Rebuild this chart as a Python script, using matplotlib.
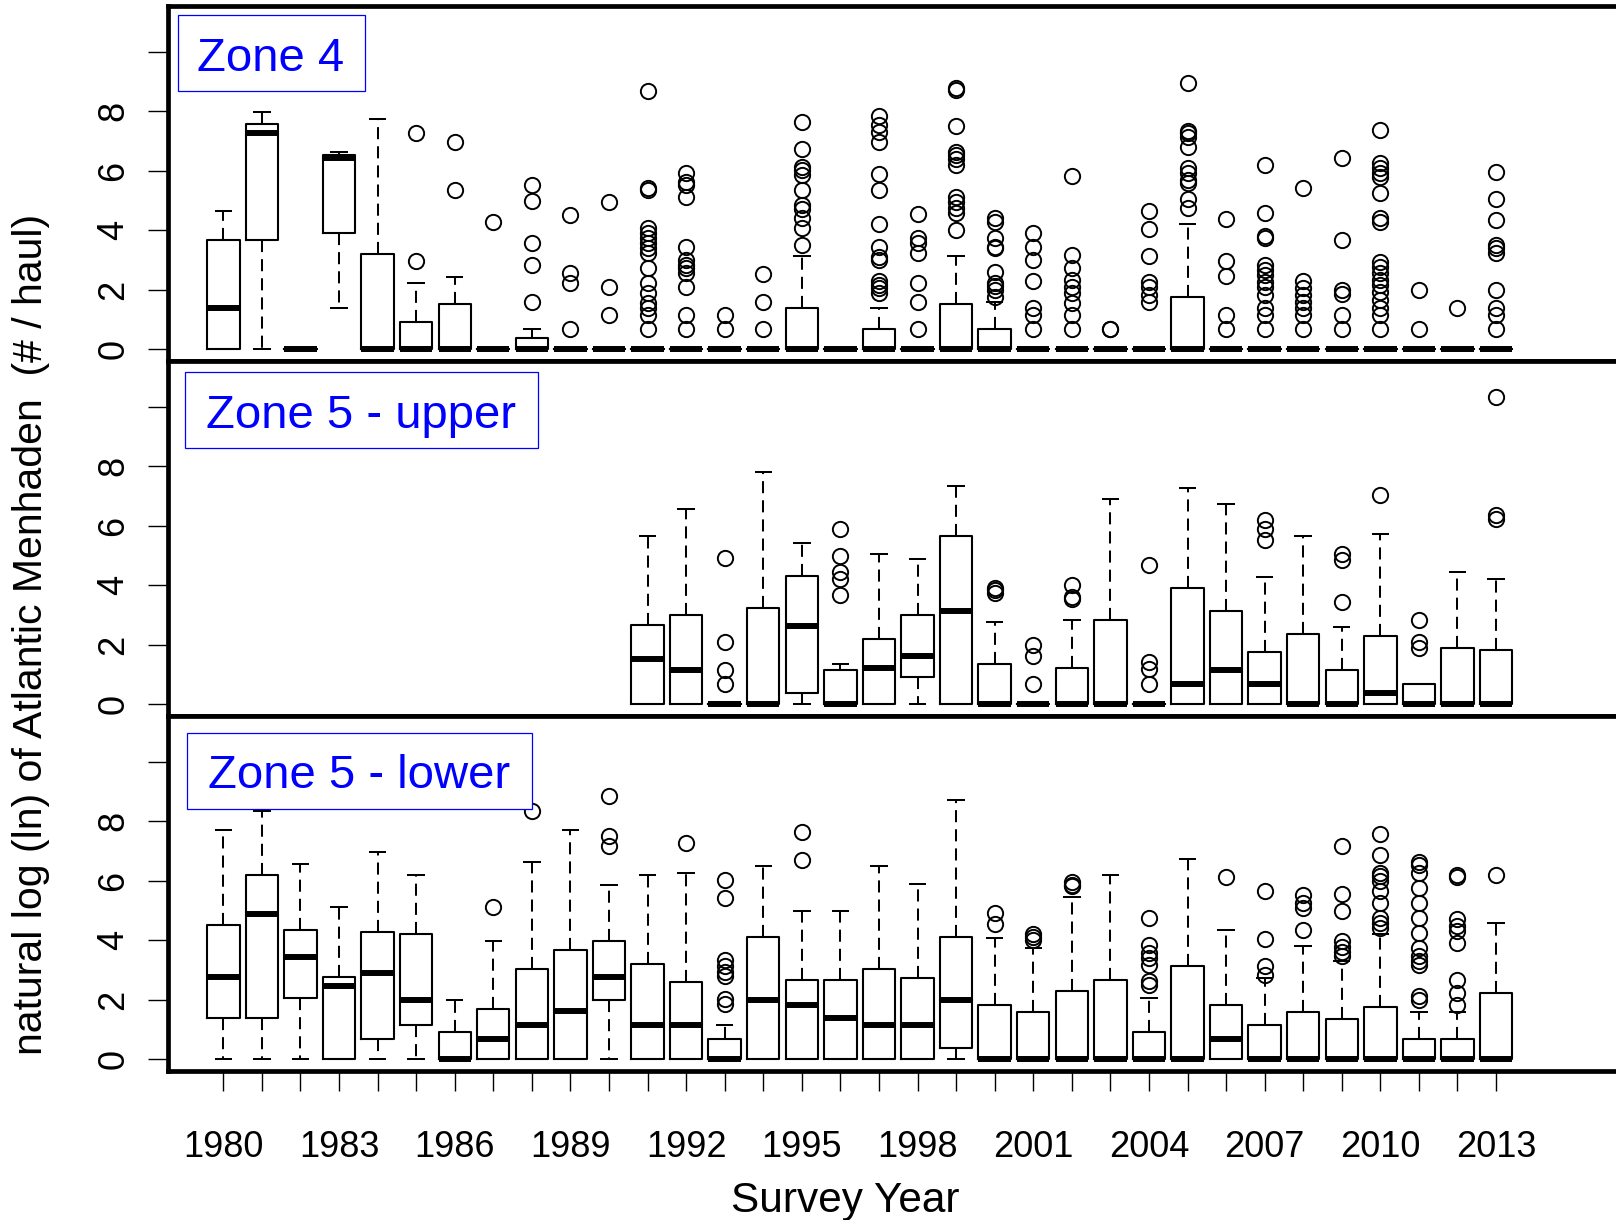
import matplotlib
matplotlib.use("Agg")
import matplotlib.pyplot as plt
from matplotlib.patches import Rectangle

plt.rcParams['font.family'] = ['Liberation Sans', 'DejaVu Sans']

years = list(range(1980, 2014))
tick_labels = [str(y) if (y - 1980) % 3 == 0 else '' for y in years]

# Zone 4 (1980-2013)
z4_q1 = [0, 3.67, 0, 3.90, 0, 0, 0, 0, 0, 0, 0, 0, 0, 0, 0, 0, 0, 0, 0, 0,
         0, 0, 0, 0, 0, 0, 0, 0, 0, 0, 0, 0, 0, 0]
z4_med = [1.38, 7.26, 0, 6.42, 0, 0, 0, 0, 0, 0, 0, 0, 0, 0, 0, 0, 0, 0, 0, 0,
          0, 0, 0, 0, 0, 0, 0, 0, 0, 0, 0, 0, 0, 0]
z4_q3 = [3.67, 7.57, 0, 6.52, 3.20, 0.92, 1.52, 0, 0.37, 0, 0, 0, 0, 0, 0, 1.38, 0, 0.67, 0, 1.52,
         0.67, 0, 0, 0, 0, 1.77, 0, 0, 0, 0, 0, 0, 0, 0]
z4_lo = [0, 0, 0, 1.38, 0, 0, 0, 0, 0, 0, 0, 0, 0, 0, 0, 0, 0, 0, 0, 0,
         0, 0, 0, 0, 0, 0, 0, 0, 0, 0, 0, 0, 0, 0]
z4_hi = [4.66, 7.96, 0, 6.64, 7.73, 2.22, 2.44, 0, 0.67, 0, 0, 0, 0, 0, 0, 3.14, 0, 1.38, 0, 3.14,
         1.60, 0, 0, 0, 0, 4.21, 0, 0, 0, 0, 0, 0, 0, 0]
z4_out = [
    [], [], [], [], [],
    [2.98, 7.26],
    [5.34, 6.95],
    [4.29],
    [1.60, 2.82, 3.58, 4.97, 5.51],
    [0.68, 2.22, 2.58, 4.51],
    [1.15, 2.08, 4.96],
    [0.68, 1.15, 1.38, 1.55, 1.88, 2.22, 2.72, 3.22, 3.39, 3.56, 3.73, 3.90, 4.06, 5.35, 5.41, 8.66],
    [0.68, 1.15, 2.08, 2.55, 2.72, 2.83, 3.00, 3.45, 5.13, 5.52, 5.63, 5.91],
    [0.68, 1.15],
    [0.68, 1.60, 2.53],
    [3.50, 4.06, 4.40, 4.70, 4.85, 5.35, 5.86, 6.02, 6.14, 6.73, 7.65],
    [],
    [1.88, 2.05, 2.15, 2.30, 3.00, 3.10, 3.45, 4.21, 5.35, 5.89, 6.98, 7.31, 7.54, 7.82],
    [0.68, 1.60, 2.22, 3.22, 3.58, 3.73, 4.54],
    [4.00, 4.57, 4.75, 4.96, 5.13, 6.19, 6.40, 6.53, 6.64, 7.50, 8.71, 8.77],
    [1.77, 1.99, 2.13, 2.24, 2.61, 3.39, 3.45, 3.73, 4.29, 4.40],
    [0.68, 1.15, 1.38, 2.30, 3.00, 3.45, 3.90],
    [0.68, 1.15, 1.55, 1.88, 2.10, 2.33, 2.74, 3.16, 5.82],
    [0.68, 0.70],
    [1.60, 1.83, 2.08, 2.27, 3.14, 4.05, 4.66],
    [4.74, 5.04, 5.58, 5.69, 5.91, 6.08, 6.81, 7.14, 7.26, 7.32, 8.96],
    [0.68, 1.15, 2.46, 2.98, 4.37],
    [0.68, 1.15, 1.38, 1.83, 2.10, 2.27, 2.49, 2.66, 2.83, 3.73, 3.81, 4.59, 6.19],
    [0.68, 1.15, 1.38, 1.60, 1.83, 2.05, 2.30, 5.43],
    [0.68, 1.15, 1.86, 1.99, 3.67, 6.42],
    [0.68, 1.15, 1.38, 1.66, 1.94, 2.16, 2.33, 2.55, 2.78, 2.95, 4.29, 4.40, 5.26, 5.80, 5.91, 6.08, 6.25, 7.35],
    [0.68, 1.99],
    [1.38],
    [0.68, 1.15, 1.38, 1.99, 3.22, 3.39, 3.50, 4.34, 5.04, 5.97],
]

# Zone 5 - upper (1991-2013)
up_years = list(range(1991, 2014))
up_q1 = [0, 0, 0, 0, 0.37, 0, 0, 0.93, 0, 0, 0, 0, 0, 0, 0, 0, 0, 0, 0, 0, 0, 0, 0]
up_med = [1.54, 1.15, 0, 0, 2.64, 0, 1.23, 1.62, 3.14, 0, 0, 0, 0, 0, 0.70, 1.17, 0.70, 0, 0, 0.39, 0, 0, 0]
up_q3 = [2.68, 2.99, 0, 3.22, 4.30, 1.17, 2.21, 2.99, 5.66, 1.37, 0, 1.23, 2.83, 0, 3.91, 3.13, 1.77, 2.38, 1.15, 2.29, 0.68, 1.91, 1.83]
up_lo = [0] * 23
up_hi = [5.66, 6.57, 0, 7.80, 5.42, 1.37, 5.04, 4.89, 7.33, 2.75, 0, 2.83, 6.88, 0, 7.26, 6.72, 4.28, 5.64, 2.59, 5.71, 0.68, 4.44, 4.20]
up_out = [
    [], [],
    [0.68, 1.15, 2.08, 4.92],
    [], [],
    [3.66, 4.20, 4.45, 4.97, 5.90],
    [], [], [],
    [3.75, 3.85, 3.92],
    [0.68, 1.62, 2.01],
    [3.55, 3.62, 4.00],
    [],
    [0.68, 1.20, 1.43, 4.67],
    [], [],
    [5.53, 5.90, 6.20],
    [],
    [3.44, 4.84, 5.06],
    [7.04],
    [1.90, 2.10, 2.83],
    [],
    [6.21, 6.37, 10.31],
]

# Zone 5 - lower (1980-2013)
lo_q1 = [1.40, 1.40, 2.07, 0, 0.67, 1.15, 0, 0, 0, 0, 1.99, 0, 0, 0, 0, 0, 0, 0, 0, 0.37,
         0, 0, 0, 0, 0, 0, 0, 0, 0, 0, 0, 0, 0, 0]
lo_med = [2.76, 4.89, 3.44, 2.46, 2.90, 2.00, 0, 0.70, 1.15, 1.62, 2.76, 1.15, 1.15, 0, 2.00, 1.84, 1.40, 1.15, 1.15, 2.00,
          0, 0, 0, 0, 0, 0, 0.70, 0, 0, 0, 0, 0, 0, 0]
lo_q3 = [4.50, 6.18, 4.36, 2.76, 4.28, 4.21, 0.92, 1.70, 3.05, 3.66, 3.97, 3.21, 2.60, 0.67, 4.12, 2.68, 2.68, 3.05, 2.74, 4.12,
         1.84, 1.60, 2.29, 2.68, 0.92, 3.13, 1.84, 1.15, 1.60, 1.37, 1.77, 0.69, 0.69, 2.22]
lo_lo = [0] * 34
lo_hi = [7.71, 8.35, 6.57, 5.12, 6.95, 6.18, 1.98, 3.97, 6.63, 7.71, 5.87, 6.18, 6.26, 1.15, 6.50, 4.97, 4.97, 6.50, 5.89, 8.72,
         4.06, 3.74, 5.44, 6.18, 2.07, 6.73, 4.35, 2.74, 3.82, 3.30, 4.21, 1.59, 1.59, 4.58]
lo_out = [
    [], [], [], [], [], [], [],
    [5.12],
    [8.35],
    [],
    [7.15, 7.49, 8.86],
    [],
    [7.26],
    [1.87, 2.02, 2.79, 2.95, 3.13, 3.35, 5.42, 6.03],
    [],
    [6.70, 7.65],
    [], [], [], [],
    [4.53, 4.92],
    [4.02, 4.12, 4.22],
    [5.81, 5.87, 5.95],
    [],
    [2.49, 2.62, 3.18, 3.41, 3.58, 3.85, 4.75],
    [],
    [6.12],
    [2.85, 3.13, 4.04, 5.64],
    [4.36, 5.08, 5.25, 5.53],
    [3.46, 3.62, 3.79, 3.97, 4.97, 5.56, 7.18],
    [4.41, 4.58, 4.75, 5.25, 5.64, 5.98, 6.15, 6.26, 6.87, 7.56],
    [2.01, 2.12, 3.18, 3.30, 3.46, 3.74, 4.25, 4.75, 5.25, 5.75, 6.26, 6.54, 6.63],
    [1.84, 2.23, 2.68, 3.91, 4.30, 4.47, 4.70, 6.12, 6.18],
    [6.20],
]

panels = [
    ("Zone 4", years, z4_q1, z4_med, z4_q3, z4_lo, z4_hi, z4_out),
    ("Zone 5 - upper", up_years, up_q1, up_med, up_q3, up_lo, up_hi, up_out),
    ("Zone 5 - lower", years, lo_q1, lo_med, lo_q3, lo_lo, lo_hi, lo_out),
]

W, H = 1616, 1220
fig = plt.figure(figsize=(W / 100, H / 100), dpi=100)

# panel edges in pixels (top, bottom)
edges = [(6, 361), (361, 716), (716, 1071)]
left_px = 168

# label boxes: (x0, y0, x1, y1, text_x, baseline_y) in pixels
label_boxes = [
    (178, 15, 365, 91, 271, 71),
    (185, 372, 538, 448, 361, 428),
    (187, 733, 532, 809, 359, 788),
]

for i, (name, yrs, q1, med, q3, lo, hi, out) in enumerate(panels):
    top, bot = edges[i]
    ax = fig.add_axes([left_px / W, 1 - bot / H, 1 - left_px / W, (bot - top) / H])
    stats = []
    for k in range(len(yrs)):
        stats.append(dict(q1=q1[k], med=med[k], q3=q3[k], whislo=lo[k], whishi=hi[k], fliers=out[k]))
    ax.bxp(stats, positions=yrs, widths=0.84, capwidths=0.4, manage_ticks=False,
           boxprops=dict(color='black', lw=1.5),
           medianprops=dict(color='black', lw=4.3, solid_capstyle='butt'),
           whiskerprops=dict(color='black', lw=1.45, linestyle=(0, (6, 3.5))),
           capprops=dict(color='black', lw=1.45),
           flierprops=dict(marker='o', markerfacecolor='none', markeredgecolor='black',
                           markersize=11, markeredgewidth=1.4))
    ax.set_xlim(1978.566, 2016.11)
    ax.set_ylim(-0.39, 11.53)
    for s in ['top', 'bottom', 'left']:
        ax.spines[s].set_linewidth(3.4)
    ax.spines['right'].set_visible(False)
    ax.set_yticks([0, 2, 4, 6, 8, 10])
    ax.set_yticklabels(['0', '2', '4', '6', '8', ''], rotation=90, va='center')
    ax.tick_params(axis='y', length=14.4, width=1.0, pad=12, labelsize=26)
    if i == 2:
        ax.set_xticks(years)
        ax.set_xticklabels(tick_labels)
        ax.tick_params(axis='x', length=14.4, width=1.0, pad=28, labelsize=26)
    else:
        ax.set_xticks([])

    x0, y0, x1, y1, tx, ty = label_boxes[i]
    fig.add_artist(Rectangle((x0 / W, 1 - y1 / H), (x1 - x0) / W, (y1 - y0) / H,
                             transform=fig.transFigure, facecolor='white',
                             edgecolor='#0000FF', lw=0.9, zorder=5))
    fig.text(tx / W, 1 - ty / H, name, color='#0000FF', fontsize=34,
             ha='center', va='baseline', zorder=6)

fig.text(31 / W, 1 - 634 / H, "natural log (ln) of Atlantic Menhaden  (# / haul)",
         rotation=90, ha='center', va='center', fontsize=29.5)
fig.text(845 / W, 1 - 1201 / H, "Survey Year", ha='center', va='center', fontsize=30.5)

fig.savefig("out.png", dpi=100)
